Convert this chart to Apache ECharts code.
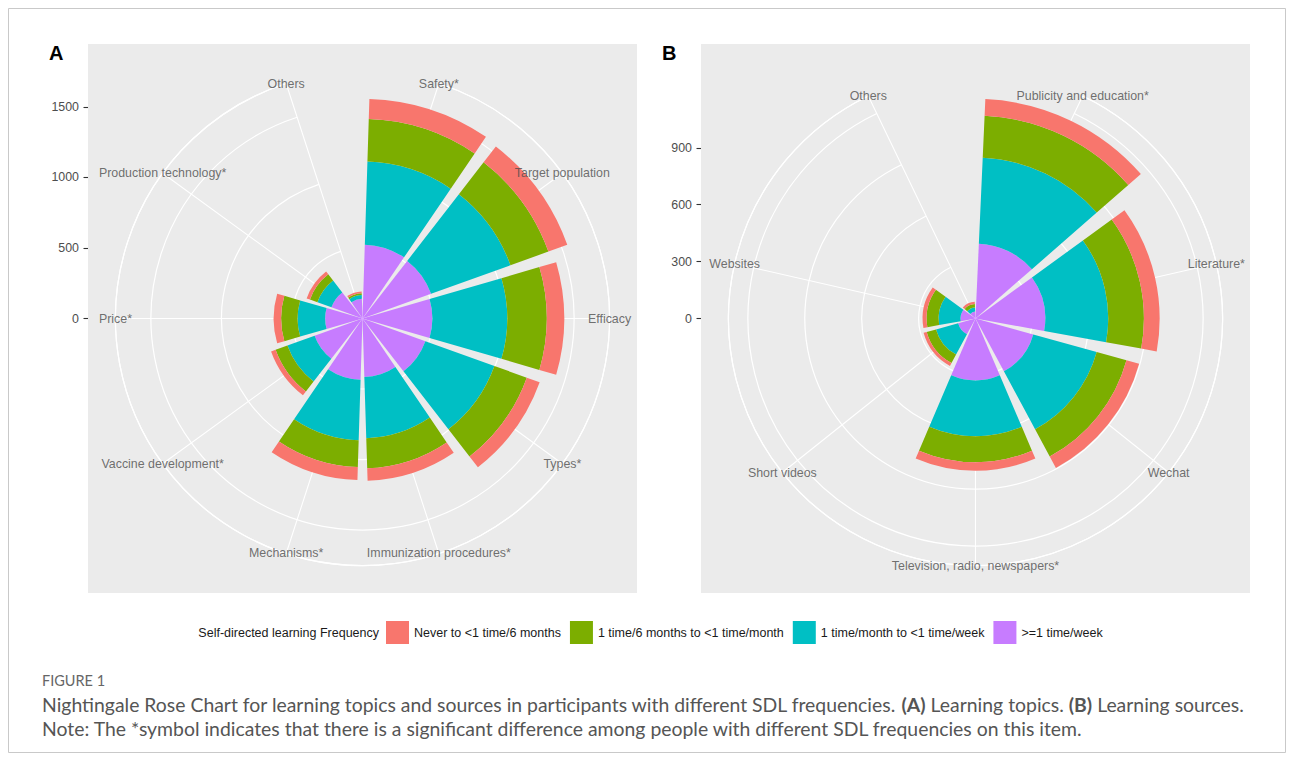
<!DOCTYPE html>
<html>
<head>
<meta charset="utf-8">
<script src="https://cdn.jsdelivr.net/npm/echarts@6/dist/echarts.min.js"></script>
<style>
  html, body { margin: 0; padding: 0; background: #ffffff; }
  #chart { width: 1293px; height: 760px; }
</style>
</head>
<body>
<div id="chart"></div>
<script>
// Frequency levels, outermost ring first (legend order)
const levels = ['Never to <1 time/6 months', '1 time/6 months to <1 time/month', '1 time/month to <1 time/week', '>=1 time/week'];
const levelColors = ['#F8766D', '#7CAE00', '#00BFC4', '#C77CFF'];

// (A) Learning topics
const topics = ['Safety*', 'Target population', 'Efficacy', 'Types*', 'Immunization procedures*', 'Mechanisms*', 'Vaccine development*', 'Price*', 'Production technology*', 'Others'];
const topicsNever      = [142, 142, 124,  97,  89,  92,  34,  53,  25, 12];
const topicsSemiannual = [302, 286, 280, 244, 213, 191,  89, 117,  56, 14];
const topicsMonthly    = [589, 598, 531, 520, 434, 429, 205, 195, 106, 26];
const topicsWeekly     = [524, 517, 495, 474, 415, 434, 361, 265, 234, 140];
const topicsTicks = [0, 500, 1000, 1500];

// (B) Learning sources
const sources = ['Publicity and education*', 'Literature*', 'Wechat', 'Television, radio, newspapers*', 'Short videos', 'Websites', 'Others'];
const sourcesNever      = [ 88,  83,  69,  45,  17,  21, 13];
const sourcesSemiannual = [221, 188, 163, 137,  51,  63, 18];
const sourcesMonthly    = [454, 332, 347, 295, 121, 116, 21];
const sourcesWeekly     = [395, 368, 316, 326,  95,  79, 37];
const sourcesTicks = [0, 300, 600, 900];

const FONT = '"Liberation Sans", Arial, Helvetica, sans-serif';
const PANEL = 549;          // panel side in px
const PANEL_TOP = 44;
const OUTER = 0.45 * PANEL; // outer ring radius (bars reach 0.40)

const option = {
  animation: false,
  backgroundColor: '#ffffff',
  polar: [], angleAxis: [], radiusAxis: [],
  grid: [], xAxis: [], yAxis: [],
  series: [],
  legend: {
    data: levels,
    left: 386, top: 621, padding: 0,
    itemWidth: 23, itemHeight: 23, itemGap: 9,
    icon: 'rect',
    selectedMode: false,
    textStyle: { fontFamily: FONT, fontSize: 12.5, color: '#1a1a1a' }
  },
  graphic: []
};

function addPanel(idx, cats, outerToInner, ticks, left, tag) {
  const n = cats.length;
  const totals = cats.map((_, i) => outerToInner.reduce((s, arr) => s + arr[i], 0));
  const rMax = Math.max(...totals) / 0.4 * 0.45;
  const cx = left + PANEL / 2, cy = PANEL_TOP + PANEL / 2;

  // grey panel plus the radius scale on its left edge
  option.grid.push({
    left: left, top: PANEL_TOP, width: PANEL, height: PANEL,
    show: true, backgroundColor: '#EBEBEB', borderWidth: 0
  });
  option.xAxis.push({ gridIndex: idx, type: 'value', show: false, min: 0, max: 1 });
  const half = rMax * (PANEL / 2) / OUTER;
  option.yAxis.push({
    gridIndex: idx, type: 'value', min: -half, max: half,
    axisLine: { show: false },
    splitLine: { show: false },
    axisTick: { show: true, length: 4.5, lineStyle: { color: '#333333', width: 1.1 }, customValues: ticks },
    axisLabel: {
      show: true, customValues: ticks, formatter: v => String(v),
      color: '#4D4D4D', fontSize: 12.4, fontFamily: FONT, margin: 9
    }
  });

  option.polar.push({ center: [cx, cy], radius: OUTER });
  option.angleAxis.push({
    polarIndex: idx, type: 'category', data: cats,
    boundaryGap: false, startAngle: 90 - 180 / n, clockwise: true,
    axisLine: { show: true, lineStyle: { color: '#ffffff', width: 1.2 } },
    axisTick: { show: false }, axisLabel: { show: false },
    splitLine: { show: true, lineStyle: { color: '#ffffff', width: 1.1 } }
  });
  option.radiusAxis.push({
    polarIndex: idx, type: 'value', min: 0, max: rMax, interval: ticks[1] - ticks[0],
    axisLine: { show: false }, axisTick: { show: false }, axisLabel: { show: false },
    splitLine: { show: true, lineStyle: { color: '#ffffff', width: 1.2 } }
  });

  // stacked sectors, innermost (weekly) first
  for (let k = outerToInner.length - 1; k >= 0; k--) {
    option.series.push({
      type: 'bar', coordinateSystem: 'polar', polarIndex: idx,
      name: levels[k], stack: 'panel' + idx, barWidth: '90%',
      itemStyle: { color: levelColors[k] },
      data: outerToInner[k]
    });
  }

  // category names centred on the outer ring
  option.series.push({
    type: 'scatter', coordinateSystem: 'polar', polarIndex: idx,
    name: 'labels' + idx, silent: true,
    symbol: 'circle', symbolSize: 1,
    itemStyle: { color: 'rgba(0,0,0,0)' },
    label: { show: true, position: 'inside', formatter: '{b}', color: '#4D4D4D', fontSize: 12.4, fontFamily: FONT },
    data: cats.map((c, i) => ({ name: c, value: [rMax, i] }))
  });

  option.graphic.push({
    type: 'text', left: left - 39, top: 43,
    style: { text: tag, font: 'bold 20px ' + FONT, fill: '#000000' }
  });
}

addPanel(0, topics, [topicsNever, topicsSemiannual, topicsMonthly, topicsWeekly], topicsTicks, 88, 'A');
addPanel(1, sources, [sourcesNever, sourcesSemiannual, sourcesMonthly, sourcesWeekly], sourcesTicks, 701, 'B');

const CAP_FONT = 'Lato, "Open Sans", "Noto Sans", sans-serif';
option.graphic.push(
  {
    type: 'rect', silent: true, z: -10,
    shape: { x: 8.5, y: 8.5, width: 1277, height: 744 },
    style: { fill: 'none', stroke: '#c9c9c9', lineWidth: 1 }
  },
  {
    type: 'text', silent: true,
    style: { text: 'Self-directed learning Frequency', x: 379, y: 633, align: 'right', verticalAlign: 'middle', font: '12.5px ' + FONT, fill: '#1a1a1a' }
  },
  {
    type: 'text', silent: true,
    style: { text: 'FIGURE 1', x: 42, y: 680, verticalAlign: 'middle', font: '14.5px ' + CAP_FONT, fill: '#666666' }
  },
  {
    type: 'text', silent: true,
    style: {
      x: 42, y: 704, verticalAlign: 'middle',
      text: '{n|Nightingale Rose Chart for learning topics and sources in participants with different SDL frequencies. }{b|(A)}{n| Learning topics. }{b|(B)}{n| Learning sources.}',
      rich: {
        n: { font: '19.4px ' + CAP_FONT, fill: '#555555' },
        b: { font: 'bold 19.4px ' + CAP_FONT, fill: '#555555' }
      }
    }
  },
  {
    type: 'text', silent: true,
    style: { text: 'Note: The *symbol indicates that there is a significant difference among people with different SDL frequencies on this item.', x: 42, y: 728, verticalAlign: 'middle', font: '19.4px ' + CAP_FONT, fill: '#555555' }
  }
);

const chart = echarts.init(document.getElementById('chart'), null, { renderer: 'svg', width: 1293, height: 760 });
chart.setOption(option);
</script>
</body>
</html>
